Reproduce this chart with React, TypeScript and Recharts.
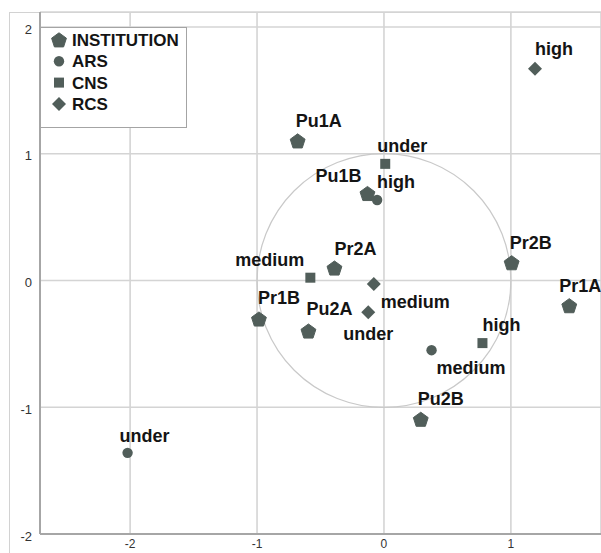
import React from 'react';
import { ScatterChart, Scatter, XAxis, YAxis, CartesianGrid, ReferenceDot, Legend } from 'recharts';

const institutionNames = ['Pu1A', 'Pu1B', 'Pr2A', 'Pr2B', 'Pr1A', 'Pr1B', 'Pu2A', 'Pu2B'];
const institutionX = [-0.68, -0.13, -0.39, 1.006, 1.46, -0.985, -0.595, 0.29];
const institutionY = [1.1, 0.685, 0.097, 0.139, -0.2, -0.305, -0.4, -1.096];

const arsNames = ['high', 'medium', 'under'];
const arsX = [-0.054, 0.375, -2.02];
const arsY = [0.635, -0.55, -1.36];

const cnsNames = ['under', 'medium', 'high'];
const cnsX = [0.01, -0.58, 0.776];
const cnsY = [0.92, 0.022, -0.494];

const rcsNames = ['high', 'medium', 'under'];
const rcsX = [1.19, -0.08, -0.124];
const rcsY = [1.67, -0.028, -0.25];

const xTicks = [-2, -1, 0, 1];
const yTicks = [-2, -1, 0, 1, 2];
const legendNames = ['INSTITUTION', 'ARS', 'CNS', 'RCS'];

// label placement (dx, dy of text centre, anchor) per series, same order as names
const instPlace: [number, number, string][] = [
  [-2, -20, 'start'], [-6, -18, 'end'], [0, -19, 'start'], [-2, -20, 'start'],
  [-10, -20, 'start'], [-1, -21, 'start'], [-2, -22, 'start'], [-3, -20, 'start'],
];
const arsPlace: [number, number, string][] = [[0, -18, 'start'], [5, 18, 'start'], [-8, -17, 'start']];
const cnsPlace: [number, number, string][] = [[-8, -18, 'start'], [-6, -18, 'end'], [0, -18, 'start']];
const rcsPlace: [number, number, string][] = [[0, -20, 'start'], [7, 18, 'start'], [0, 22, 'middle']];

const W = 601;
const H = 553;
const X_DOMAIN: [number, number] = [-2.71, 1.71];
const Y_DOMAIN: [number, number] = [-2, 2.118];
const PLOT_LEFT = 40;
const MARK = '#515e5a';

const build = (names: string[], xs: number[], ys: number[]) =>
  names.map((name, i) => ({ x: xs[i], y: ys[i], name, idx: i }));

const Marker = ({ kind, cx, cy }: { kind: string; cx: number; cy: number }) => {
  if (kind === 'pentagon') {
    const r = 7.8;
    const pts = [0, 1, 2, 3, 4]
      .map((k) => {
        const a = -Math.PI / 2 + (k * 2 * Math.PI) / 5;
        return `${cx + r * Math.cos(a)},${cy + 0.6 + r * Math.sin(a)}`;
      })
      .join(' ');
    return <polygon points={pts} fill={MARK} stroke={MARK} strokeWidth={1} strokeLinejoin="round" />;
  }
  if (kind === 'circle') return <circle cx={cx} cy={cy} r={5.2} fill={MARK} />;
  if (kind === 'square') return <rect x={cx - 5} y={cy - 5} width={10} height={10} fill={MARK} />;
  return <polygon points={`${cx},${cy - 7} ${cx + 7},${cy} ${cx},${cy + 7} ${cx - 7},${cy}`} fill={MARK} />;
};

const makeShape = (kind: string, place: [number, number, string][]) => (props: any) => {
  const { cx, cy, payload } = props;
  const [dx, dy, anchor] = place[payload.idx];
  return (
    <g>
      <Marker kind={kind} cx={cx} cy={cy} />
      <text
        x={cx + dx}
        y={cy + dy + 6}
        textAnchor={anchor as any}
        fontFamily="'Liberation Sans', Arial, sans-serif"
        fontWeight="bold"
        fontSize={18}
        fill="#141414"
      >
        {payload.name}
      </text>
    </g>
  );
};

const LegendBox = () => {
  const kinds = ['pentagon', 'circle', 'square', 'diamond'];
  return (
    <div style={{ width: 147, height: 101, border: '1.5px solid #a4a4a4', background: '#fff', boxSizing: 'border-box' }}>
      <svg width={145} height={99}>
        {legendNames.map((n, i) => {
          const cy = 12 + i * 21.3;
          return (
            <g key={n}>
              <Marker kind={kinds[i]} cx={18} cy={cy} />
              <text
                x={31}
                y={cy + 6}
                fontFamily="'Liberation Sans', Arial, sans-serif"
                fontWeight="bold"
                fontSize={17}
                fill="#141414"
              >
                {n}
              </text>
            </g>
          );
        })}
      </svg>
    </div>
  );
};

const App: React.FC = () => {
  const plotWidth = W - PLOT_LEFT;
  const unitPx = plotWidth / (X_DOMAIN[1] - X_DOMAIN[0]);

  return (
    <div style={{ position: 'absolute', left: 0, top: 0, width: W, height: H, overflow: 'hidden', background: '#fff' }}>
      <div style={{ position: 'absolute', left: 9, top: 12, width: 800, height: 800, border: '1px solid #d2d2d2' }} />
      <div style={{ position: 'absolute', left: 0, top: 0 }}>
        <ScatterChart width={W} height={H} margin={{ top: 12, right: 0, bottom: 0, left: 0 }}>
          <CartesianGrid stroke="#d4d4d4" strokeWidth={1.6} />
          <XAxis
            type="number"
            dataKey="x"
            domain={X_DOMAIN}
            ticks={xTicks}
            allowDataOverflow
            height={19}
            tickSize={0}
            tickMargin={5}
            axisLine={{ stroke: '#a6a6a6', strokeWidth: 2 }}
            tickLine={false}
            tick={{ fill: '#333', fontSize: 12, fontFamily: 'Arial, sans-serif' }}
          />
          <YAxis
            type="number"
            dataKey="y"
            domain={Y_DOMAIN}
            ticks={yTicks}
            allowDataOverflow
            width={PLOT_LEFT}
            tickSize={0}
            tickMargin={8}
            axisLine={{ stroke: '#a6a6a6', strokeWidth: 2 }}
            tickLine={false}
            tick={{ fill: '#333', fontSize: 13, fontFamily: 'Arial, sans-serif', dy: 2 }}
          />
          <ReferenceDot x={0} y={0} r={unitPx} fill="none" stroke="#c9c9c9" strokeWidth={1.2} ifOverflow="visible" />
          <Legend
            layout="vertical"
            align="center"
            verticalAlign="middle"
            content={() => <LegendBox />}
            wrapperStyle={{ position: 'absolute', left: 40, top: 27, width: 147, height: 101 }}
          />
          <Scatter data={build(institutionNames, institutionX, institutionY)} shape={makeShape('pentagon', instPlace)} isAnimationActive={false} />
          <Scatter data={build(arsNames, arsX, arsY)} shape={makeShape('circle', arsPlace)} isAnimationActive={false} />
          <Scatter data={build(cnsNames, cnsX, cnsY)} shape={makeShape('square', cnsPlace)} isAnimationActive={false} />
          <Scatter data={build(rcsNames, rcsX, rcsY)} shape={makeShape('diamond', rcsPlace)} isAnimationActive={false} />
        </ScatterChart>
      </div>
    </div>
  );
};

export default App;
